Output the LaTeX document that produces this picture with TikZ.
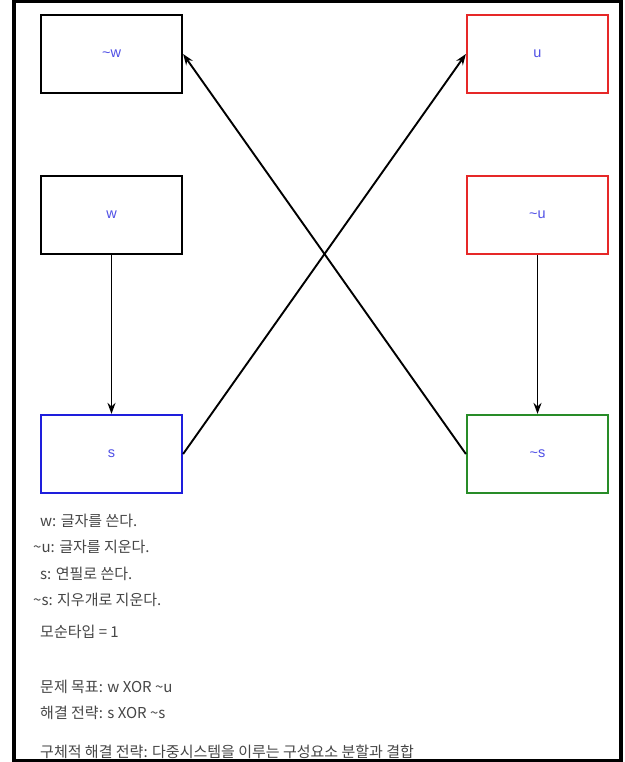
\documentclass[tikz,border=0pt]{standalone}
\usepackage{fontspec}
\setmainfont{Liberation Sans}
\newfontfamily\kr{Noto Sans CJK KR}
\usetikzlibrary{arrows.meta}
\definecolor{lblue}{RGB}{80,80,230}
\definecolor{boxred}{RGB}{230,40,40}
\definecolor{boxblue}{RGB}{30,30,220}
\definecolor{boxgreen}{RGB}{40,140,40}
\definecolor{txt}{RGB}{70,70,70}
\begin{document}
\begin{tikzpicture}[x=1pt,y=-1pt,
  vbox/.style={draw=#1,line width=2.2pt,minimum width=141pt,minimum height=78pt,inner sep=0pt,
    text=lblue,font=\fontsize{14.5}{17}\selectfont},
  conn/.style={line width=1.9pt,-{Stealth[length=11pt,width=8pt]}},
  note/.style={anchor=west,inner sep=0pt,text=txt,font=\fontsize{15}{17}\selectfont\kr}]
\useasboundingbox (0,0) rectangle (624,762);
\fill[white] (0,0) rectangle (624,762);
% boxes
\node[vbox=black] (nw) at (111.5,54) {\textasciitilde w};
\node[vbox=boxred] (u) at (537.5,54) {u};
\node[vbox=black] (w) at (111.5,215) {w};
\node[vbox=boxred] (nu) at (537.5,215) {\textasciitilde u};
\node[vbox=boxblue] (s) at (111.5,454) {s};
\node[vbox=boxgreen] (ns) at (537.5,454) {\textasciitilde s};
% connectors
\draw[conn] (w.south) -- (s.north);
\draw[conn] (nu.south) -- (ns.north);
\draw[conn] (s.east) -- (u.west);
\draw[conn] (ns.west) -- (nw.east);
% notes
\node[note] (t1) at (40,521) {w: 글자를 쓴다.};
\node[note] (t2) at (33,547) {\textasciitilde u: 글자를 지운다.};
\node[note] (t3) at (40,574) {s: 연필로 쓴다.};
\node[note] (t4) at (33,600) {\textasciitilde s: 지우개로 지운다.};
\node[note] (t5) at (40,632) {모순타입 = 1};
\node[note] (t6) at (40,687) {문제 목표: w XOR \textasciitilde u};
\node[note] (t7) at (40,713) {해결 전략: s XOR \textasciitilde s};
\node[note] (t8) at (40,752) {구체적 해결 전략: 다중시스템을 이루는 구성요소 분할과 결합};
% outer frame
\fill[white] (14,760) rectangle (621,762);
\draw[line width=3.5pt] (14,1.75) rectangle (621,760.25);
\end{tikzpicture}
\end{document}
